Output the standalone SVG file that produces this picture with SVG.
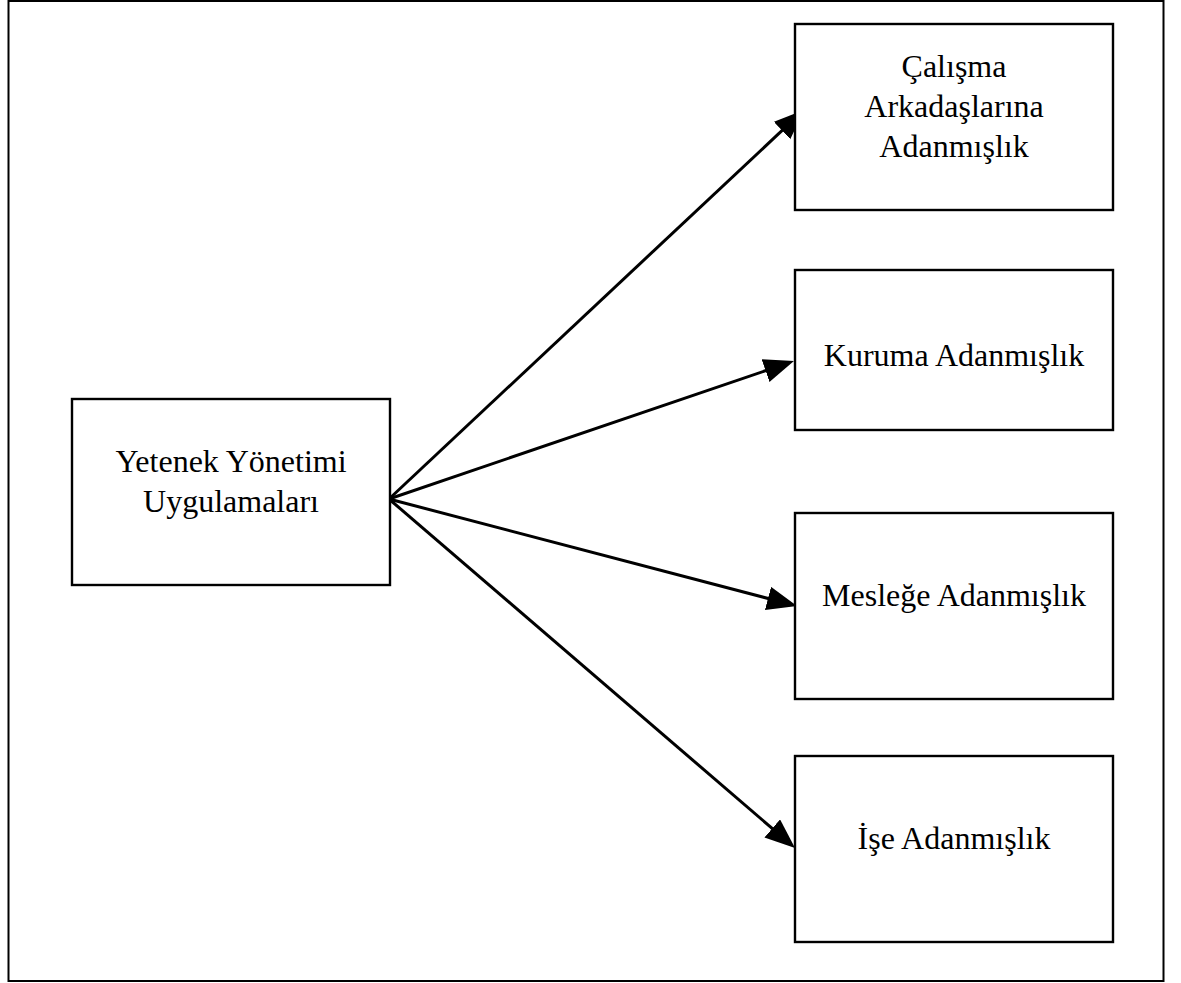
<svg xmlns="http://www.w3.org/2000/svg" width="1181" height="983" viewBox="0 0 1181 983">
<style>
.box{fill:#fff;stroke:#000;stroke-width:2.4}
.lbl{font-family:"Liberation Serif","Times New Roman",serif;font-size:32px;fill:#000;text-anchor:middle}
.conn{stroke:#000;stroke-width:3;fill:none;marker-end:url(#ah)}
</style>
<defs>
<marker id="ah" markerUnits="userSpaceOnUse" markerWidth="32" markerHeight="26" refX="18" refY="12" orient="auto">
<path d="M0,0 L30,12 L0,24 z" fill="#000"/>
</marker>
</defs>
<rect x="0" y="0" width="1181" height="983" fill="#fff"/>
<rect x="8.5" y="1" width="1155" height="980" fill="none" stroke="#000" stroke-width="2"/>
<g id="connectors">
<line class="conn" x1="389" y1="499" x2="795.2" y2="118.2"/>
<line class="conn" x1="389" y1="499" x2="782.6" y2="364.9"/>
<line class="conn" x1="389" y1="499" x2="785.4" y2="603.0"/>
<line class="conn" x1="389" y1="499" x2="785.9" y2="840.2"/>
</g>
<g id="node-source">
<rect class="box" x="72" y="399" width="318" height="186"/>
<text class="lbl" x="231" y="472">Yetenek Yönetimi</text>
<text class="lbl" x="231" y="512">Uygulamaları</text>
</g>
<g id="node-calisma">
<rect class="box" x="795" y="24" width="318" height="186"/>
<text class="lbl" x="954" y="77">Çalışma</text>
<text class="lbl" x="954" y="117">Arkadaşlarına</text>
<text class="lbl" x="954" y="157">Adanmışlık</text>
</g>
<g id="node-kuruma">
<rect class="box" x="795" y="270" width="318" height="160"/>
<text class="lbl" x="954" y="366">Kuruma Adanmışlık</text>
</g>
<g id="node-meslege">
<rect class="box" x="795" y="513" width="318" height="186"/>
<text class="lbl" x="954" y="606">Mesleğe Adanmışlık</text>
</g>
<g id="node-ise">
<rect class="box" x="795" y="756" width="318" height="186"/>
<text class="lbl" x="954" y="849">İşe Adanmışlık</text>
</g>
</svg>
